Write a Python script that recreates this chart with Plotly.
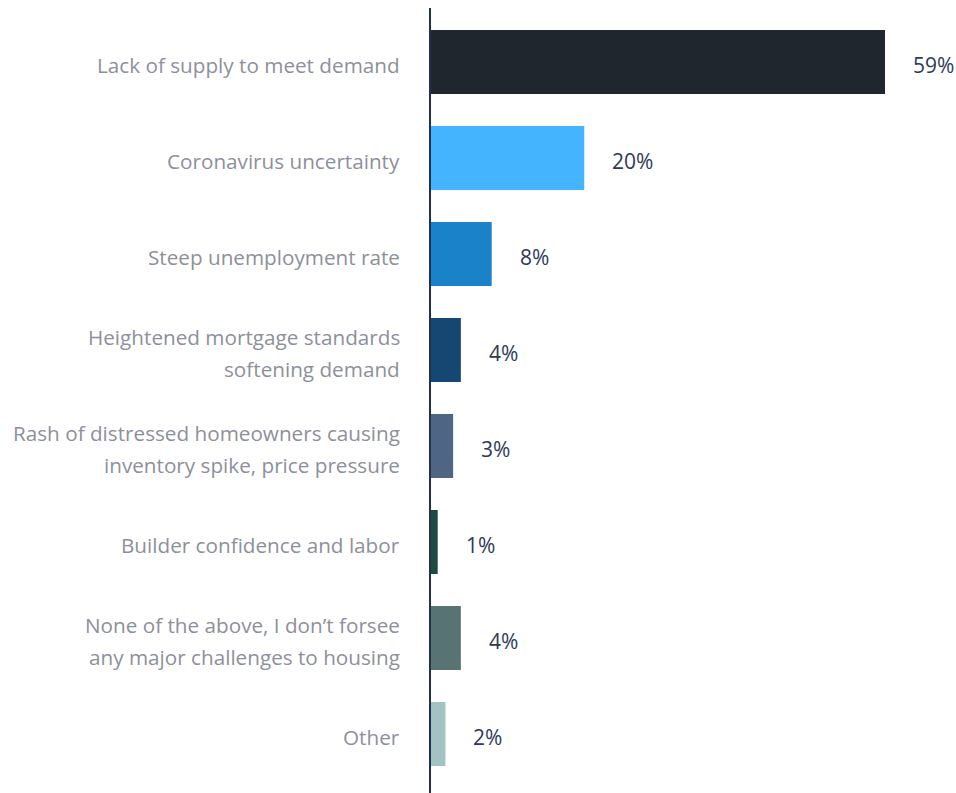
import plotly.graph_objects as go

categories = [
    ["Lack of supply to meet demand"],
    ["Coronavirus uncertainty"],
    ["Steep unemployment rate"],
    ["Heightened mortgage standards", "softening demand"],
    ["Rash of distressed homeowners causing", "inventory spike, price pressure"],
    ["Builder confidence and labor"],
    ["None of the above, I don\u2019t forsee", "any major challenges to housing"],
    ["Other"],
]
values = [59, 20, 8, 4, 3, 1, 4, 2]
colors = ["#1f262e", "#45b4ff", "#1a82c9", "#164672", "#4e6683", "#1e4a44", "#587472", "#a3c3c2"]

cat_keys = [" ".join(c) for c in categories]

FONT = "Open Sans"
LABEL_COLOR = "#8d909b"
VALUE_COLOR = "#2d3a5a"

fig = go.Figure()
fig.add_trace(go.Bar(
    y=cat_keys, x=values, orientation="h",
    marker=dict(color=colors, line=dict(width=0)),
    hoverinfo="skip",
))

annotations = []
for key, lines in zip(cat_keys, categories):
    n = len(lines)
    for i, line in enumerate(lines):
        shift = (-(i - (n - 1) / 2)) * 32 - 3
        annotations.append(dict(
            xref="paper", yref="y", x=0, y=key, text=line,
            xanchor="right", yanchor="middle", xshift=-28, yshift=shift,
            showarrow=False, font=dict(family=FONT, size=20.7, color=LABEL_COLOR),
        ))
for key, v in zip(cat_keys, values):
    annotations.append(dict(
        xref="x", yref="y", x=v, y=key, text=f"{v}%",
        xanchor="left", yanchor="middle", xshift=26, yshift=-3,
        showarrow=False, font=dict(family=FONT, size=21, color=VALUE_COLOR),
    ))

fig.update_layout(
    width=956, height=793,
    margin=dict(l=430, r=0, t=14, b=11, pad=0),
    paper_bgcolor="white", plot_bgcolor="white",
    bargap=1/3,
    showlegend=False,
    xaxis=dict(range=[0, 526 / (455 / 59)], visible=False, fixedrange=True),
    yaxis=dict(categoryorder="array", categoryarray=cat_keys[::-1],
               showticklabels=False, showgrid=False, zeroline=False, fixedrange=True),
    annotations=annotations,
    shapes=[dict(type="line", xref="paper", yref="paper", x0=0, x1=0,
                 y0=-11 / 768, y1=1 + 6 / 768,
                 line=dict(color="#24304f", width=2))],
)

fig.write_html("out.html")
